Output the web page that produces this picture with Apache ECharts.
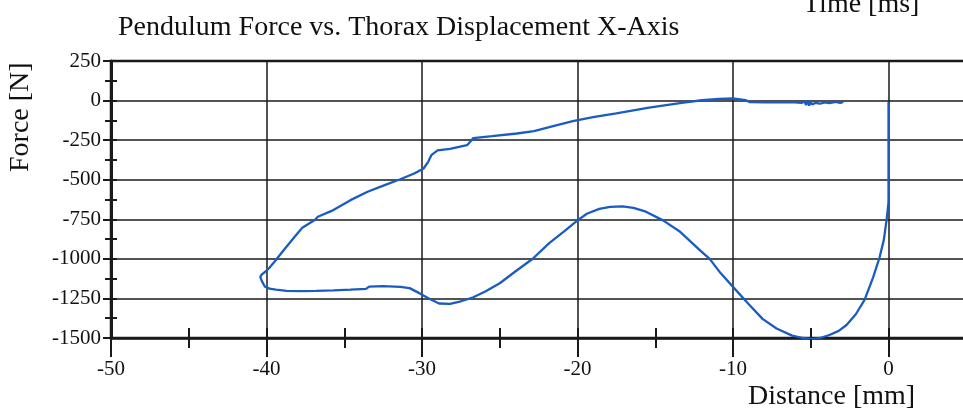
<!DOCTYPE html>
<html><head><meta charset="utf-8">
<script src="https://cdn.jsdelivr.net/npm/echarts@6/dist/echarts.min.js"></script>
<style>html,body{margin:0;padding:0;background:#fff}#c{width:963px;height:413px}</style>
</head><body><div id="c"></div>
<script>
const titleText = 'Pendulum Force vs. Thorax Displacement X-Axis';
const xName = 'Distance [mm]';
const yName = 'Force [N]';
const topRightText = 'Time [ms]';
const xTicks = [-50, -40, -30, -20, -10, 0];
const yTicks = [250, 0, -250, -500, -750, -1000, -1250, -1500];
const distance = [0, 0, 0, 0, -0.05, -0.13, -0.3, -0.58, -1.0, -1.54, -2.1, -2.7, -3.2, -3.8, -4.4, -4.9, -5.5, -6.2, -7.2, -8.1, -9.0, -10.0, -10.8, -11.5, -12.1, -13.4, -14.5, -15.6, -16.4, -17.1, -17.9, -18.6, -19.4, -20.0, -20.9, -21.8, -22.9, -24.0, -25.0, -25.9, -26.7, -27.5, -28.2, -28.9, -29.5, -30.2, -30.8, -31.4, -32.5, -33.4, -33.6, -34.6, -35.7, -36.8, -37.8, -38.7, -39.4, -39.8, -40.1, -40.3, -40.4, -40.3, -40.1, -39.8, -39.5, -38.9, -38.2, -37.7, -36.9, -36.7, -35.7, -34.6, -33.5, -32.4, -31.4, -30.5, -29.9, -29.6, -29.4, -29.0, -28.2, -27.4, -27.1, -26.9, -26.7, -25.5, -23.9, -22.8, -21.5, -20.3, -19.0, -17.5, -15.4, -13.3, -12.0, -10.9, -10.0, -9.2, -8.9, -8.0, -7.0, -6.0, -5.6, -5.4, -5.3, -5.2, -5.1, -5.0, -4.9, -4.7, -4.4, -4.1, -3.8, -3.4, -3.1, -2.9];
const force = [-10, -200, -450, -640, -690, -758, -880, -993, -1120, -1259, -1350, -1418, -1455, -1481, -1500, -1507, -1500, -1485, -1440, -1379, -1285, -1177, -1090, -1000, -948, -829, -757, -702, -678, -669, -672, -684, -715, -757, -830, -899, -1001, -1080, -1154, -1205, -1243, -1268, -1285, -1282, -1254, -1215, -1185, -1177, -1172, -1175, -1190, -1195, -1199, -1202, -1204, -1202, -1195, -1188, -1176, -1141, -1114, -1098, -1083, -1055, -1020, -946, -862, -804, -755, -734, -692, -629, -576, -534, -497, -461, -429, -387, -345, -315, -305, -288, -282, -260, -237, -225, -208, -193, -160, -130, -105, -81, -45, -14, 2, 11, 13, 3, -10, -12, -12, -12, -15, -5, -28, 0, -32, -8, -25, -14, -20, -12, -16, -8, -14, -8];

const points = distance.map((d, i) => [d, force[i]]);
const serif = '"Liberation Serif", "Times New Roman", serif';
const ink = '#1a1a1a';

const chart = echarts.init(document.getElementById('c'), null, {renderer: 'canvas'});
chart.setOption({
  backgroundColor: '#fff',
  animation: false,
  grid: {left: 111, top: 61, width: 933, height: 277, outerBoundsMode: 'none', containLabel: false,
    show: true, borderColor: ink, borderWidth: 2.5, backgroundColor: 'transparent'},
  xAxis: [{
    type: 'value', min: -50, max: 10, interval: 10, position: 'bottom',
    axisLine: {onZero: false, lineStyle: {color: ink, width: 2.5}},
    axisTick: {show: true, length: 19, lineStyle: {color: ink, width: 2}},
    minorTick: {show: true, splitNumber: 2, length: 10, lineStyle: {color: ink, width: 2}},
    splitLine: {show: true, lineStyle: {color: ink, width: 1.5}},
    axisLabel: {color: '#111', fontFamily: serif, fontSize: 21, margin: 21,
      formatter: v => xTicks.indexOf(v) >= 0 ? String(v) : ''}
  }, {
    type: 'value', min: -50, max: 10, interval: 5, position: 'bottom',
    axisLine: {show: false, onZero: false},
    axisTick: {show: true, inside: true, length: 10, lineStyle: {color: ink, width: 2}},
    splitLine: {show: false}, axisLabel: {show: false}
  }],
  yAxis: [{
    type: 'value', min: -1500, max: 250, interval: 250, position: 'left',
    axisLine: {show: true, onZero: false, lineStyle: {color: ink, width: 3}},
    axisTick: {show: true, length: 8, lineStyle: {color: ink, width: 2}},
    minorTick: {show: true, splitNumber: 2, length: 6, lineStyle: {color: ink, width: 2}},
    splitLine: {show: true, lineStyle: {color: ink, width: 1.5}},
    axisLabel: {color: '#111', fontFamily: serif, fontSize: 21, margin: 10,
      formatter: v => yTicks.indexOf(v) >= 0 ? String(v) : ''}
  }, {
    type: 'value', min: -1500, max: 250, interval: 125, position: 'left',
    axisLine: {show: false, onZero: false},
    axisTick: {show: true, inside: true, length: 6, lineStyle: {color: ink, width: 2}},
    splitLine: {show: false}, axisLabel: {show: false}
  }],
  series: [{
    type: 'line', data: points, xAxisIndex: 0, yAxisIndex: 0,
    showSymbol: false, symbol: 'none', smooth: false,
    lineStyle: {color: '#1a5cc2', width: 2.3}, z: 5
  }],
  graphic: [
    {type: 'text', left: 118, top: 14, style: {text: titleText, font: '28px ' + serif, fill: '#111'}},
    {type: 'text', left: 803, top: -9, style: {text: topRightText, font: '28px ' + serif, fill: '#111'}},
    {type: 'text', left: 748, top: 383, style: {text: xName, font: '28px ' + serif, fill: '#111'}},
    {type: 'text', x: 7, y: 172, rotation: Math.PI / 2, style: {text: yName, font: '28px ' + serif, fill: '#111', textAlign: 'left', textVerticalAlign: 'top'}}
  ]
});
</script></body></html>
